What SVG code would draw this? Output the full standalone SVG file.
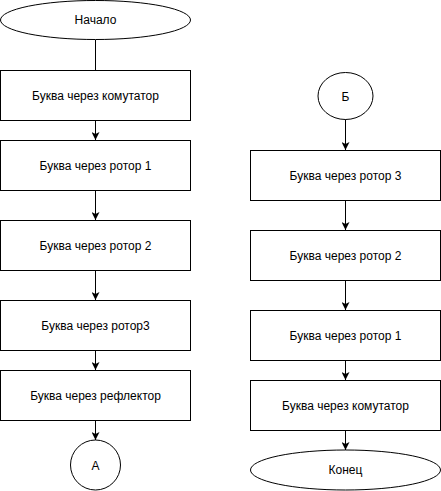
<svg xmlns="http://www.w3.org/2000/svg" width="441" height="491" viewBox="0 0 441 491">
<defs>
<marker id="arr" viewBox="0 0 10 10" refX="10" refY="5" markerWidth="8" markerHeight="8" markerUnits="userSpaceOnUse" orient="auto">
<path d="M0,0 L10,5 L0,10 L2.5,5 Z" fill="#000"/>
</marker>
<style>
.s{fill:#fff;stroke:#000;stroke-width:1}
.t{font-family:"Liberation Sans",Arial,sans-serif;font-size:12px;fill:#000;text-anchor:middle}
.c{fill:none;stroke:#000;stroke-width:1}
</style>
</defs>
<rect width="441" height="491" fill="#fff"/>
<g id="connectors">
<line class="c" x1="95.5" y1="40" x2="95.5" y2="70"/>
<line class="c" x1="95.5" y1="120" x2="95.5" y2="140" marker-end="url(#arr)"/>
<line class="c" x1="95.5" y1="190" x2="95.5" y2="220" marker-end="url(#arr)"/>
<line class="c" x1="95.5" y1="270" x2="95.5" y2="300" marker-end="url(#arr)"/>
<line class="c" x1="95.5" y1="350" x2="95.5" y2="370" marker-end="url(#arr)"/>
<line class="c" x1="95.5" y1="420" x2="95.5" y2="440" marker-end="url(#arr)"/>
<line class="c" x1="345.5" y1="119" x2="345.5" y2="150" marker-end="url(#arr)"/>
<line class="c" x1="345.5" y1="200" x2="345.5" y2="230" marker-end="url(#arr)"/>
<line class="c" x1="345.5" y1="280" x2="345.5" y2="310" marker-end="url(#arr)"/>
<line class="c" x1="345.5" y1="360" x2="345.5" y2="380" marker-end="url(#arr)"/>
<line class="c" x1="345.5" y1="430" x2="345.5" y2="450" marker-end="url(#arr)"/>
</g>
<g id="start"><ellipse class="s" cx="95.5" cy="20" rx="95" ry="19.5"/><text class="t" x="95.5" y="24">Начало</text></g>
<g id="l1"><rect class="s" x="0.5" y="70.5" width="190" height="50"/><text class="t" x="95.5" y="99.5">Буква через комутатор</text></g>
<g id="l2"><rect class="s" x="0.5" y="140.5" width="190" height="50"/><text class="t" x="95.5" y="169.5">Буква через ротор 1</text></g>
<g id="l3"><rect class="s" x="0.5" y="220.5" width="190" height="50"/><text class="t" x="95.5" y="249.5">Буква через ротор 2</text></g>
<g id="l4"><rect class="s" x="0.5" y="300.5" width="190" height="50"/><text class="t" x="95.5" y="329.5">Буква через ротор3</text></g>
<g id="l5"><rect class="s" x="0.5" y="370.5" width="190" height="50"/><text class="t" x="95.5" y="399.5">Буква через рефлектор</text></g>
<g id="a"><circle class="s" cx="95.5" cy="465" r="25"/><text class="t" x="95.5" y="469.5">А</text></g>
<g id="b"><ellipse class="s" cx="345.5" cy="96" rx="27.5" ry="23.5"/><text class="t" x="345.5" y="100.5">Б</text></g>
<g id="r1"><rect class="s" x="250.5" y="150.5" width="190" height="50"/><text class="t" x="345.5" y="179.5">Буква через ротор 3</text></g>
<g id="r2"><rect class="s" x="250.5" y="230.5" width="190" height="50"/><text class="t" x="345.5" y="259.5">Буква через ротор 2</text></g>
<g id="r3"><rect class="s" x="250.5" y="310.5" width="190" height="50"/><text class="t" x="345.5" y="339.5">Буква через ротор 1</text></g>
<g id="r4"><rect class="s" x="250.5" y="380.5" width="190" height="50"/><text class="t" x="345.5" y="409.5">Буква через комутатор</text></g>
<g id="end"><ellipse class="s" cx="345.5" cy="470" rx="95" ry="20"/><text class="t" x="345.5" y="474">Конец</text></g>
</svg>
